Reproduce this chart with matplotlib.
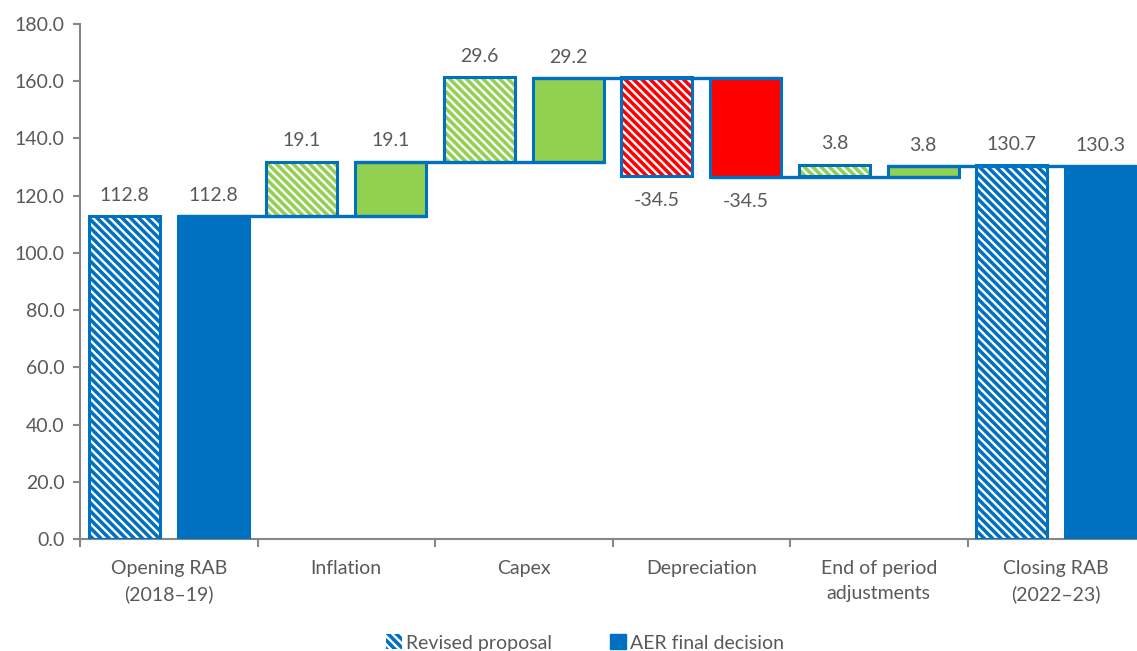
import matplotlib.pyplot as plt
from matplotlib.patches import Patch
import numpy as np

plt.rcParams['font.family'] = ['Lato', 'DejaVu Sans']
plt.rcParams['hatch.linewidth'] = 1.7

categories = ['Opening RAB\n(2018\u201319)', 'Inflation', 'Capex', 'Depreciation',
              'End of period\nadjustments', 'Closing RAB\n(2022\u201323)']
revised = [112.8, 19.1, 29.6, -34.5, 3.8, 130.7]
aer = [112.8, 19.1, 29.2, -34.5, 3.8, 130.3]
series_names = ['Revised proposal', 'AER final decision']

BLUE = '#0070C0'
GREEN = '#92D050'
RED = '#FF0000'
GREY = '#595959'
AXIS = '#878787'

fig = plt.figure(figsize=(11.37, 6.51), dpi=100)
ax = fig.add_axes([80 / 1137, 112 / 651, 1065 / 1137, 515 / 651])

width = 0.4
offsets = [-0.25, 0.25]
n = len(categories)


def waterfall(values):
    # bottoms and heights for each bar, first and last are totals
    bottoms, heights, levels = [], [], []
    level = 0
    for i, v in enumerate(values):
        if i == 0 or i == len(values) - 1:
            bottoms.append(0)
            heights.append(v)
            level = v
        else:
            bottoms.append(level if v >= 0 else level + v)
            heights.append(abs(v))
            level = level + v
        levels.append(level)
    return bottoms, heights, levels


for s, (vals, off) in enumerate(zip([revised, aer], offsets)):
    bottoms, heights, levels = waterfall(vals)
    x = np.arange(n) + off
    colors = []
    for i, v in enumerate(vals):
        if i == 0 or i == n - 1:
            colors.append(BLUE)
        elif v >= 0:
            colors.append(GREEN)
        else:
            colors.append(RED)
    if s == 0:
        ax.bar(x, heights, width, bottom=bottoms, color=colors, edgecolor='white',
               hatch='\\\\\\\\', linewidth=0, zorder=2)
        ax.bar(x, heights, width, bottom=bottoms, fill=False, edgecolor=BLUE,
               linewidth=2.2, zorder=3)
    else:
        ax.bar(x, heights, width, bottom=bottoms, color=colors, edgecolor=BLUE,
               linewidth=2.2, zorder=3)
        # connector lines between the AER bars
        for i in range(n - 1):
            ax.plot([i + off - width / 2, i + 1 + off + width / 2], [levels[i], levels[i]],
                    color=BLUE, lw=2.4, zorder=4, solid_capstyle='butt')

    for i, v in enumerate(vals):
        top = bottoms[i] + heights[i]
        if v >= 0:
            ax.annotate(f'{v:.1f}', (x[i], top), xytext=(0, 15), textcoords='offset points',
                        ha='center', va='center', fontsize=14, color=GREY)
        else:
            ax.annotate(f'{v:.1f}', (x[i], bottoms[i]), xytext=(0, -18), textcoords='offset points',
                        ha='center', va='center', fontsize=14, color=GREY)

ax.set_xlim(-0.5, n - 0.5)
ax.set_ylim(0, 180)
ax.set_yticks(np.arange(0, 181, 20))
ax.set_yticklabels([f'{t:.1f}' for t in np.arange(0, 181, 20)], fontsize=14, color=GREY)
ax.set_xticks(np.arange(n))
ax.set_xticklabels(categories, fontsize=14, color=GREY, linespacing=1.55)
ax.set_xticks(np.arange(n + 1) - 0.5, minor=True)
ax.tick_params(axis='x', which='major', length=0, pad=15)
ax.tick_params(axis='x', which='minor', length=6, width=1.5, color=AXIS)
ax.tick_params(axis='y', length=5, width=1.5, color=AXIS, pad=6)
for side in ['top', 'right']:
    ax.spines[side].set_visible(False)
for side in ['left', 'bottom']:
    ax.spines[side].set_color(AXIS)
    ax.spines[side].set_linewidth(1.5)

handles = [Patch(facecolor=BLUE, edgecolor='white', hatch='\\\\\\\\', linewidth=0),
           Patch(facecolor=BLUE, edgecolor=BLUE)]
fig.legend(handles, series_names, loc='center', bbox_to_anchor=(585 / 1137, 8 / 651),
           ncol=2, frameon=False, fontsize=14, handlelength=0.8, handleheight=0.8,
           handletextpad=0.2, columnspacing=3, labelcolor=GREY)

fig.savefig('out.png', dpi=100)
